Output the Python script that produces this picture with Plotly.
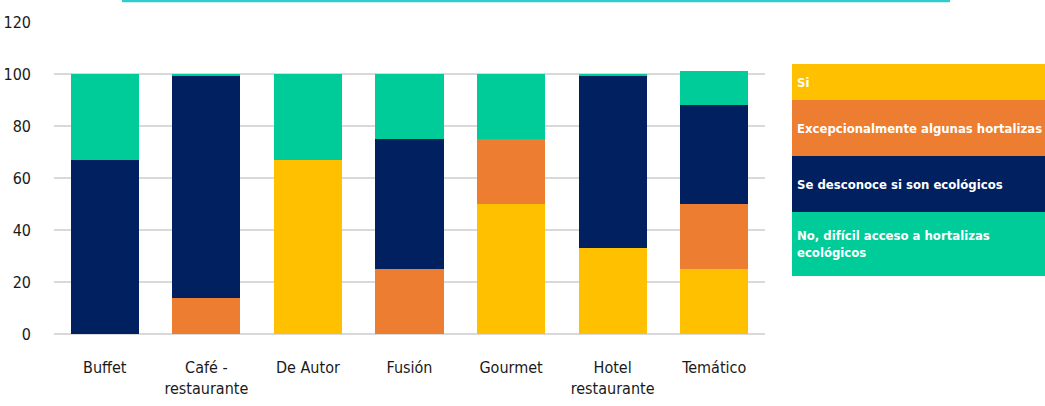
import plotly.graph_objects as go

categories = ["Buffet", "Café -<br>restaurante", "De Autor", "Fusión", "Gourmet", "Hotel<br>restaurante", "Temático"]
series_names = ["Si", "Excepcionalmente algunas hortalizas", "Se desconoce si son ecológicos",
                "No, difícil acceso a hortalizas<br>ecológicos"]
si = [0, 0, 67, 0, 50, 33, 25]
excepcional = [0, 14, 0, 25, 25, 0, 25]
desconoce = [67, 85.6, 0, 50, 0, 66.6, 38]
no_dificil = [33, 0.4, 33, 25, 25, 0.4, 13]
colors = ["#FFC000", "#ED7D31", "#002060", "#00CC99"]
y_ticks = [0, 20, 40, 60, 80, 100, 120]

values = [si, excepcional, desconoce, no_dificil]
FONT = "DejaVu Sans Condensed, Liberation Sans Narrow, Roboto, sans-serif"

fig = go.Figure()
for name, vals, col in zip(series_names, values, colors):
    fig.add_trace(go.Bar(x=categories, y=vals, name=name, marker=dict(color=col, line=dict(width=0)),
                         showlegend=False))

fig.update_layout(
    barmode="stack", bargap=0.33,
    width=1045, height=406,
    margin=dict(l=54, r=280, t=22, b=72),
    plot_bgcolor="white", paper_bgcolor="white",
    font=dict(family=FONT, size=16, color="#1a1a1a"),
    xaxis=dict(showline=False, ticks="", tickfont=dict(size=16), ticklabelstandoff=22, automargin=False),
    yaxis=dict(range=[0, 120], tickvals=y_ticks, showgrid=True, gridcolor="#D9D9D9", gridwidth=1.5,
               zeroline=True, zerolinecolor="#D9D9D9", zerolinewidth=2, ticks="",
               tickfont=dict(size=16), ticklabelstandoff=22, automargin=False),
)

# top cyan rule
fig.add_shape(type="line", xref="paper", yref="paper", x0=(122 - 54) / 711, x1=(950 - 54) / 711,
              y0=(334 - 1) / 312, y1=(334 - 1) / 312, line=dict(color="#33CCCC", width=2.5))

# custom legend blocks
px_bounds = [64, 100, 156, 212, 276]
x0 = (792 - 54) / 711
x1 = (1045 - 54) / 711
for i, (name, col) in enumerate(zip(series_names, colors)):
    ya = (334 - px_bounds[i]) / 312
    yb = (334 - px_bounds[i + 1]) / 312
    fig.add_shape(type="rect", xref="paper", yref="paper", x0=x0, x1=x1, y0=yb, y1=ya,
                  fillcolor=col, line=dict(width=0), layer="above")
    fig.add_annotation(xref="paper", yref="paper", x=(795 - 54) / 711, y=(ya + yb) / 2,
                       text="<b>" + name + "</b>", showarrow=False, xanchor="left", yanchor="middle",
                       align="left", font=dict(family=FONT, size=13, color="white"))

fig.write_html("out.html")
